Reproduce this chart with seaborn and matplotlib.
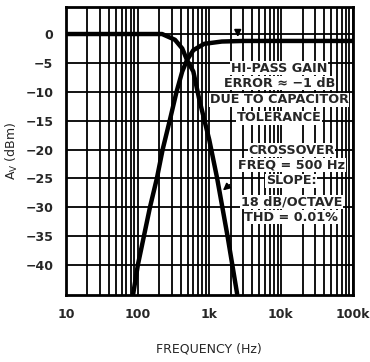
import matplotlib
matplotlib.use("Agg")
import matplotlib.pyplot as plt
import numpy as np
import pandas as pd
import seaborn as sns

# low-pass and high-pass responses
lp_freq = [10, 100, 220, 333, 420, 490, 600, 728, 1000, 1290, 1800, 2450]
lp_db = [0, 0, 0, -1.0, -2.5, -4.5, -6.5, -11.4, -18.3, -25, -35, -45]
hp_freq = [87, 101, 149, 186, 224, 281, 350, 420, 490, 600, 850, 1500, 3000, 100000]
hp_db = [-45, -40, -30, -25, -20, -15, -10, -6.5, -4.5, -2.8, -1.7, -1.3, -1.2, -1.2]

x_ticks = [10, 100, 1000, 10000, 100000]
x_labels = ["10", "100", "1k", "10k", "100k"]
y_ticks = [0, -5, -10, -15, -20, -25, -30, -35, -40]

note_top = ["HI-PASS GAIN", "ERROR \u2248 \u22121 dB", "DUE TO CAPACITOR", "TOLERANCE"]
note_top_y = [-5.9, -8.5, -11.4, -14.5]
note_bottom = ["CROSSOVER", "FREQ = 500 Hz", "SLOPE:", "18 dB/OCTAVE", "THD = 0.01%"]
note_bottom_y = [-20.1, -22.7, -25.4, -29.1, -31.7]

df = pd.concat([
    pd.DataFrame({"freq": lp_freq, "db": lp_db, "filter": "low"}),
    pd.DataFrame({"freq": hp_freq, "db": hp_db, "filter": "high"}),
])

sns.set_style("white")
plt.rcParams["font.family"] = ["DejaVu Sans"]
plt.rcParams["font.weight"] = "bold"

fig = plt.figure(figsize=(3.7, 3.62), dpi=100)
ax = fig.add_axes([0.178, 0.185, 0.775, 0.796])

sns.lineplot(data=df, x="freq", y="db", units="filter", estimator=None,
             color="black", lw=3.2, sort=False, ax=ax)

ax.set_xscale("log")
ax.set_xlim(10, 1e5)
ax.set_ylim(-45.2, 4.7)
ax.set_xticks(x_ticks)
ax.set_xticklabels(x_labels)
ax.set_yticks(y_ticks)
ax.set_yticklabels([str(v).replace("-", "\u2212") for v in y_ticks])
ax.xaxis.set_minor_locator(matplotlib.ticker.LogLocator(base=10, subs=np.arange(2, 10)))
ax.xaxis.set_minor_formatter(matplotlib.ticker.NullFormatter())
ax.grid(True, which="both", axis="x", color="black", lw=1.3)
ax.grid(True, which="major", axis="y", color="black", lw=1.3)
ax.tick_params(which="both", length=0, labelsize=9, pad=9)
for s in ax.spines.values():
    s.set_linewidth(2)
    s.set_color("black")

ax.set_xlabel("FREQUENCY (Hz)", fontsize=9, labelpad=16)
ax.set_ylabel(r"A$_\mathregular{V}$ (dBm)", fontsize=9, labelpad=4)

box = dict(facecolor="white", edgecolor="none", pad=0.5)
for t, y in zip(note_top, note_top_y):
    ax.text(9500, y, t, ha="center", va="center", fontsize=9.2, bbox=box)
for t, y in zip(note_bottom, note_bottom_y):
    ax.text(14000, y, t, ha="center", va="center", fontsize=9.2, bbox=box)

ax.annotate("", xy=(2500, -1.0), xytext=(2500, 1.2),
            arrowprops=dict(arrowstyle="-|>", color="black", lw=1.2))
ax.annotate("", xy=(1450, -27.4), xytext=(2050, -25.8),
            arrowprops=dict(arrowstyle="-|>", color="black", lw=1.2))

fig.savefig("out.png", dpi=100)
